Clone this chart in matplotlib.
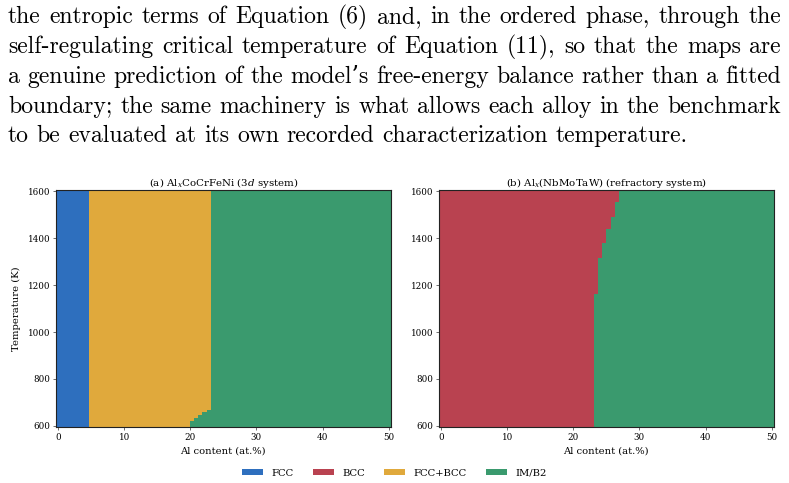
import numpy as np
import matplotlib
matplotlib.use("Agg")
import matplotlib.pyplot as plt
from matplotlib.colors import ListedColormap
from matplotlib.patches import Patch

# ---------------- data ----------------
phase_names = ["FCC", "BCC", "FCC+BCC", "IM/B2"]
phase_colors = ["#2E6FBE", "#B94250", "#E0A93C", "#3A9A6E"]

al_content = np.linspace(0, 50, 80)        # at.% grid
temperature = np.linspace(600, 1600, 80)   # K grid

# panel (a) Al_x CoCrFeNi
a_fcc_limit = 4.8                                   # FCC below this Al content
a_T_breaks = [619, 632, 644, 657, 670]              # K
a_im_start = [19.9, 20.6, 21.2, 21.8, 22.5, 23.1]   # IM/B2 from this Al content

# panel (b) Al_x(NbMoTaW)
b_T_breaks = [1163, 1315, 1378, 1442, 1492, 1556]
b_im_start = [23.1, 23.7, 24.4, 25.0, 25.6, 26.3, 26.9]

x_ticks = [0, 10, 20, 30, 40, 50]
y_ticks = [600, 800, 1000, 1200, 1400, 1600]

paragraph = [
    "the entropic terms of Equation (6) and, in the ordered phase, through the",
    "self-regulating critical temperature of Equation (11), so that the maps are",
    "a genuine prediction of the model\u2019s free-energy balance rather than a fitted",
    "boundary; the same machinery is what allows each alloy in the benchmark",
    "to be evaluated at its own recorded characterization temperature.",
]

# ---------------- phase maps ----------------
X, T = np.meshgrid(al_content, temperature)

im_a = np.array(a_im_start)[np.searchsorted(a_T_breaks, T)]
phase_a = np.full(X.shape, 2)
phase_a[X < a_fcc_limit] = 0
phase_a[X >= im_a] = 3

im_b = np.array(b_im_start)[np.searchsorted(b_T_breaks, T)]
phase_b = np.full(X.shape, 1)
phase_b[X >= im_b] = 3

# ---------------- figure ----------------
W, H = 789, 483
fig = plt.figure(figsize=(W / 100, H / 100), dpi=100)
plt.rcParams["font.family"] = ["DejaVu Serif"]
plt.rcParams["mathtext.fontset"] = "dejavuserif"
fs_tick = 6.3
fs_lab = 7.2
fs_title = 7.4

cmap = ListedColormap(phase_colors)

axA = fig.add_axes([56 / W, 1 - 427.3 / H, 334.7 / W, 237.3 / H])
axB = fig.add_axes([439 / W, 1 - 427.3 / H, 334.7 / W, 237.3 / H])

for ax, ph, title in [
    (axA, phase_a, r"(a) Al$_x$CoCrFeNi (3$d$ system)"),
    (axB, phase_b, r"(b) Al$_x$(NbMoTaW) (refractory system)"),
]:
    ax.pcolormesh(al_content, temperature, ph, cmap=cmap, vmin=-0.5, vmax=3.5,
                  shading="nearest", rasterized=True)
    ax.set_xticks(x_ticks)
    ax.set_yticks(y_ticks)
    ax.tick_params(labelsize=fs_tick, length=2.5, width=0.6, color="#555555", pad=1.5)
    ax.set_xlabel("Al content (at.%)", fontsize=fs_lab, labelpad=3.5)
    ax.set_title(title, fontsize=fs_title, pad=3)
    for s in ax.spines.values():
        s.set_linewidth(0.8)
        s.set_color("#222222")

axA.set_ylabel("Temperature (K)", fontsize=fs_lab, labelpad=5)

handles = [Patch(facecolor=c, edgecolor="none", label=n) for n, c in zip(phase_names, phase_colors)]
fig.legend(handles=handles, loc="center", bbox_to_anchor=(0.5, 1 - 473 / H), ncol=4,
           frameon=False, fontsize=fs_lab, handlelength=2.1, handleheight=0.6,
           columnspacing=1.95, handletextpad=0.8)

# ---------------- paragraph (justified) ----------------
renderer = fig.canvas.get_renderer()
pfam = ["cmr10", "DejaVu Serif"]
left_px, right_px = 8, 781
target_first = 768.0
space_em = 0.333


def word_widths(words, size):
    objs = [fig.text(0, 0, w, family=pfam, size=size) for w in words]
    ws = [o.get_window_extent(renderer).width for o in objs]
    for o in objs:
        o.remove()
    return ws


first_words = paragraph[0].split(" ")
ws16 = word_widths(first_words, 16)
nat16 = sum(ws16) + (len(first_words) - 1) * space_em * 16 * 100 / 72
psize = 16 * target_first / nat16
space_px = space_em * psize * 100 / 72

baselines = [23, 53, 83, 113, 142]
for i, (line, yb) in enumerate(zip(paragraph, baselines)):
    yf = 1 - yb / H
    words = line.split(" ")
    widths = word_widths(words, psize)
    if i == len(paragraph) - 1:
        gap = space_px
    else:
        gap = (right_px - left_px - sum(widths)) / (len(words) - 1)
    x = left_px
    for w, wd in zip(words, widths):
        fig.text(x / W, yf, w, family=pfam, size=psize, va="baseline", ha="left")
        x += wd + gap

fig.savefig("out.png", dpi=100)
